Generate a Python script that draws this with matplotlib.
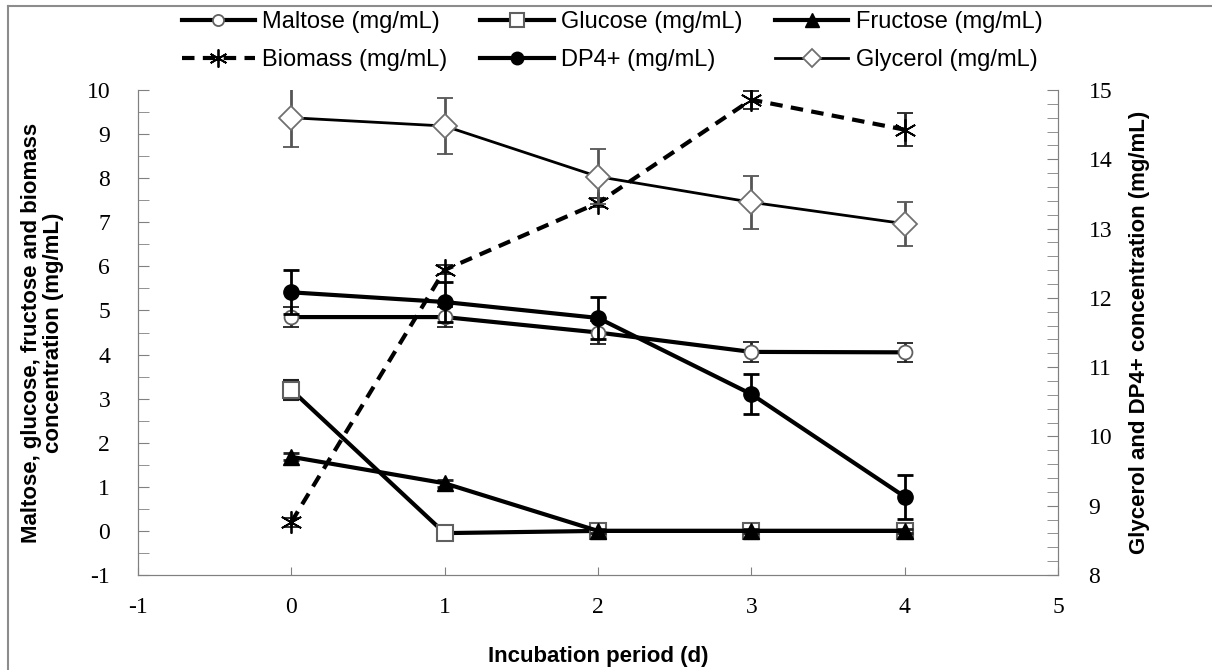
import matplotlib
matplotlib.use("Agg")
import matplotlib.pyplot as plt
from matplotlib.lines import Line2D
from matplotlib.ticker import MultipleLocator

plt.rcParams["axes.unicode_minus"] = False

days = [0, 1, 2, 3, 4]

# left axis series
maltose = [4.85, 4.85, 4.5, 4.06, 4.05]
maltose_err = [0.22, 0.22, 0.25, 0.22, 0.22]
glucose = [3.2, -0.05, 0.0, 0.0, 0.0]
glucose_err = [0.22, 0.08, 0.1, 0.1, 0.1]
fructose = [1.68, 1.08, 0.0, 0.0, 0.0]
fructose_err = [0.08, 0.08, 0.05, 0.05, 0.05]
biomass = [0.2, 5.92, 7.44, 9.78, 9.1]
biomass_err = [0.1, 0.1, 0.1, 0.2, 0.38]
# right axis series
dp4 = [12.08, 11.94, 11.71, 10.61, 9.13]
dp4_err = [0.32, 0.29, 0.30, 0.29, 0.32]
glycerol = [14.6, 14.48, 13.75, 13.38, 13.07]
glycerol_err = [0.42, 0.4, 0.4, 0.38, 0.32]

left_label = "Maltose, glucose, fructose and biomass\nconcentration (mg/mL)"
right_label = "Glycerol and DP4+ concentration (mg/mL)"
x_label = "Incubation period (d)"
legend_labels = ["Maltose (mg/mL)", "Glucose (mg/mL)", "Fructose (mg/mL)",
                 "Biomass (mg/mL)", "DP4+ (mg/mL)", "Glycerol (mg/mL)"]

sans = ["Liberation Sans Narrow", "Liberation Sans", "DejaVu Sans"]
serif = ["Liberation Serif", "DejaVu Serif"]

fig = plt.figure(figsize=(12.12, 6.7), dpi=100)
fig.patch.set_facecolor("white")
W, H = 1212.0, 670.0
border = "#8c8c8c"
fig.add_artist(Line2D([8 / W, 1.0], [1 - 6 / H, 1 - 6 / H], transform=fig.transFigure,
                      color=border, lw=1.5))
fig.add_artist(Line2D([8 / W, 8 / W], [0.0, 1 - 6 / H], transform=fig.transFigure,
                      color=border, lw=1.5))

ax = fig.add_axes([138 / W, 1 - 575 / H, 920 / W, 485 / H])
ax2 = ax.twinx()

grey = "#808080"
for a in (ax, ax2):
    for s in a.spines.values():
        s.set_color(grey)
    a.spines["top"].set_visible(False)

ax.set_xlim(-1, 5)
ax.set_ylim(-1, 10)
ax2.set_ylim(8, 15)

lw = 3.0
ek = dict(elinewidth=2.0, capsize=6, capthick=2.0)

style_mal = dict(color="black", lw=lw, marker="o", ms=10, mfc="white", mec="#606060", mew=1.3)
style_glu = dict(color="black", lw=lw, marker="s", ms=12, mfc="white", mec="#606060", mew=1.5)
style_fru = dict(color="black", lw=lw, marker="^", ms=11, mfc="black", mec="black")
style_bio = dict(color="black", lw=lw, ls=(0, (3, 2)), marker=(6, 2, 0), ms=16, mew=1.3, mec="black")
style_dp4 = dict(color="black", lw=lw, marker="o", ms=11, mfc="black", mec="black")
style_gly = dict(color="black", lw=2.0, marker="D", ms=12, mfc="white", mec="#707070", mew=1.3)

ax.errorbar(days, maltose, yerr=maltose_err, ecolor="#202020", **ek, zorder=4, **style_mal)
ax.errorbar(days, glucose, yerr=glucose_err, ecolor="#202020", **ek, zorder=4, **style_glu)
ax.errorbar(days, fructose, yerr=fructose_err, ecolor="#202020", **ek, zorder=5, **style_fru)
ax.errorbar(days, biomass, yerr=biomass_err, ecolor="#202020", **ek, zorder=4, **style_bio)
ax2.errorbar(days, dp4, yerr=dp4_err, ecolor="black", **ek, zorder=5, **style_dp4)
ax2.errorbar(days, glycerol, yerr=glycerol_err, ecolor="#555555", **ek, zorder=4, **style_gly)

# ticks
ax.xaxis.set_major_locator(MultipleLocator(1))
ax.yaxis.set_major_locator(MultipleLocator(1))
ax.yaxis.set_minor_locator(MultipleLocator(0.5))
ax2.yaxis.set_major_locator(MultipleLocator(1))
ax2.yaxis.set_minor_locator(MultipleLocator(0.2))
ax.tick_params(axis="x", direction="in", length=6, color=grey, pad=16, labelsize=17)
ax.tick_params(axis="y", which="both", direction="in", length=8, color=grey, pad=20, labelsize=17)
ax2.tick_params(axis="y", which="both", direction="in", length=8, color=grey, pad=22, labelsize=17)
for lab in ax.get_xticklabels() + ax.get_yticklabels() + ax2.get_yticklabels():
    lab.set_family(serif)

ax.set_xlabel(x_label, fontsize=16, fontweight="bold", family=sans, labelpad=20)
ax.set_ylabel(left_label, fontsize=16, fontweight="bold", family=sans, labelpad=16,
              linespacing=1.1)
ax2.set_ylabel(right_label, fontsize=16, fontweight="bold", family=sans, labelpad=12)

# legend handles (no error bars)
def h(style, **over):
    s = dict(style)
    s.update(over)
    return Line2D([], [], **s)

hm = h(style_mal, ms=8)
hg = h(style_glu, ms=10)
hf = h(style_fru, ms=10)
hb = h(style_bio, ms=13)
hd = h(style_dp4, ms=9)
hy = h(style_gly, ms=9)
handles = [hm, hb, hg, hd, hf, hy]
labels = [legend_labels[0], legend_labels[3], legend_labels[1],
          legend_labels[4], legend_labels[2], legend_labels[5]]
fig.legend(handles, labels, loc="upper center", bbox_to_anchor=(0.505, 1.005),
           ncol=3, frameon=False, prop={"family": sans, "size": 17},
           handlelength=3.1, columnspacing=1.4, labelspacing=0.7,
           handletextpad=0.3, borderaxespad=0.2)

fig.savefig("out.png", dpi=100)
